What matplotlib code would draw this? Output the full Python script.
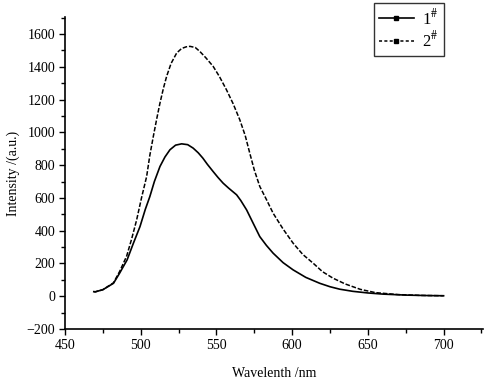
import matplotlib.pyplot as plt
from matplotlib.ticker import MultipleLocator
from matplotlib.lines import Line2D

plt.rcParams["font.family"] = ["Liberation Serif", "DejaVu Serif"]
plt.rcParams["mathtext.fontset"] = "stix"

# sample 1# (solid)
wl_1 = [469, 470, 475, 482, 486, 491, 495, 499.5, 503, 506, 509, 512.7, 516, 519.3, 523, 527,
        531, 534.6, 538, 541, 544, 547.8, 551, 554.4, 558, 563.3, 566, 569.9, 574, 578.6,
        583, 587.4, 594, 600.6, 609, 618.2, 625, 631.4, 640, 650, 660, 675, 690, 700]
int_1 = [28, 27, 40, 79, 140, 222, 320, 425, 530, 608, 700, 792, 850, 894, 922, 930,
         925, 904, 875, 843, 805, 761, 725, 690, 660, 619, 585, 527, 450, 364,
         310, 263, 205, 161, 115, 79, 58, 43, 30, 20, 13, 7, 4, 3]

# sample 2# (dashed)
wl_2 = [469, 470, 475, 482, 486, 490.7, 494, 497.3, 500.5, 503.9, 506, 508.3, 510.5, 512.7,
        515, 517.1, 520, 523.7, 527, 530, 532.5, 536, 539, 543, 547.8, 552, 556.6, 561, 565.4,
        569, 572, 575, 578.6, 583, 587.4, 594, 600.6, 607, 613.8, 620, 627, 635, 645,
        655, 670, 685, 700]
int_2 = [28, 27, 40, 82, 150, 245, 350, 466, 600, 731, 860, 975, 1080, 1179,
         1270, 1342, 1420, 1484, 1512, 1522, 1525, 1518, 1494, 1455, 1403, 1340, 1260, 1175, 1077,
         980, 873, 770, 670, 590, 507, 410, 324, 255, 202, 150, 110, 75, 42,
         22, 10, 5, 3]

fig = plt.figure(figsize=(4.9, 3.84), dpi=100)
ax = fig.add_axes([0.1327, 0.1432, 0.853, 0.8125])

ax.plot(wl_1, int_1, color="black", linewidth=1.2)
ax.plot(wl_2, int_2, color="black", linewidth=1.1, linestyle=(0, (3, 1.2)))

ax.set_xlim(450, 726)
ax.set_ylim(-200, 1704)
ax.xaxis.set_major_locator(MultipleLocator(50))
ax.xaxis.set_minor_locator(MultipleLocator(25))
ax.yaxis.set_major_locator(MultipleLocator(200))
ax.yaxis.set_minor_locator(MultipleLocator(100))
ax.tick_params(which="major", direction="out", length=4, width=1, labelsize=10, pad=3)
ax.tick_params(which="minor", direction="out", length=3, width=1)
for s in ["top", "right"]:
    ax.spines[s].set_visible(False)
for s in ["left", "bottom"]:
    ax.spines[s].set_linewidth(1.2)

ax.set_xlabel("Wavelenth /nm", fontsize=10, labelpad=11)
ax.set_ylabel("Intensity /(a.u.)", fontsize=10, labelpad=5)

# legend handles with little square markers
h1 = Line2D([], [], color="black", linewidth=1.2, marker="s", markersize=3, label="1$^{\\#}$")
h2 = Line2D([], [], color="black", linewidth=1.1, linestyle=(0, (2, 1.5)), marker="s",
            markersize=3, label="2$^{\\#}$")
leg = fig.legend(handles=[h1, h2], loc="upper left", bbox_to_anchor=(0.763, 0.992),
                 fontsize=12, frameon=True, fancybox=False, edgecolor="black",
                 handlelength=2.1, borderaxespad=0, labelspacing=0.15, borderpad=0.3,
                 handletextpad=0.5)
leg.get_frame().set_linewidth(1.0)

fig.savefig("out.png", dpi=100)
